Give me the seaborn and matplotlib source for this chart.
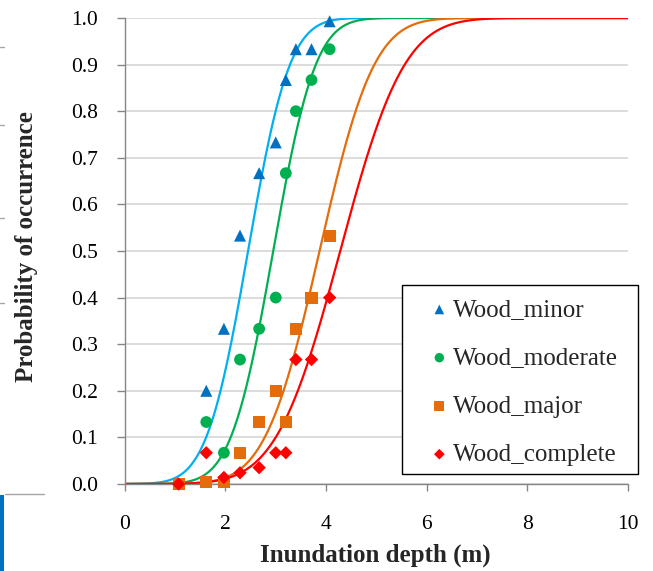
import math
import numpy as np
import pandas as pd
import matplotlib
matplotlib.use("Agg")
import matplotlib.pyplot as plt
import seaborn as sns
from matplotlib.lines import Line2D
from matplotlib.patches import Rectangle

# ---------------- data ----------------
depth = [1.07, 1.62, 1.97, 2.29, 2.67, 3.00, 3.20, 3.40, 3.71, 4.07]
p_minor = [0.0, 0.200, 0.333, 0.533, 0.667, 0.733, 0.867, 0.933, 0.933, 0.993]
p_moderate = [0.0, 0.133, 0.067, 0.267, 0.333, 0.400, 0.667, 0.800, 0.867, 0.933]
p_major = [0.0, 0.004, 0.004, 0.067, 0.133, 0.200, 0.133, 0.333, 0.400, 0.533]
p_complete = [0.0, 0.067, 0.014, 0.024, 0.035, 0.067, 0.067, 0.267, 0.267, 0.400]
series = ["Wood_minor", "Wood_moderate", "Wood_major", "Wood_complete"]

# fitted fragility curves (normal CDF parameters)
fit_mean = [2.45, 2.95, 3.87, 4.28]
fit_sd = [0.65, 0.66, 0.85, 1.00]

x_ticks = [0, 2, 4, 6, 8, 10]
y_ticks = [0.0, 0.1, 0.2, 0.3, 0.4, 0.5, 0.6, 0.7, 0.8, 0.9, 1.0]
x_label = "Inundation depth (m)"
y_label = "Probability of occurrence"

marker_colors = ["#0070C0", "#00B050", "#E46C0A", "#FF0000"]
curve_colors = ["#00B0F0", "#00B050", "#E46C0A", "#FF0000"]
markers = ["^", "o", "s", "D"]
marker_sizes = [75, 72, 76, 46]

# ---------------- tables ----------------
values = [p_minor, p_moderate, p_major, p_complete]
pts = pd.DataFrame({
    "depth": np.tile(depth, len(series)),
    "prob": np.concatenate(values),
    "series": np.repeat(series, len(depth)),
})

xgrid = np.linspace(0, 10, 501)
curve_rows = []
for name, m, s in zip(series, fit_mean, fit_sd):
    for xv in xgrid:
        curve_rows.append((xv, 0.5 * (1 + math.erf((xv - m) / (s * math.sqrt(2)))), name))
curves = pd.DataFrame(curve_rows, columns=["depth", "prob", "series"])

# ---------------- figure ----------------
sns.set_theme(style="white")
plt.rcParams["font.family"] = ["Liberation Serif", "DejaVu Serif"]

fig = plt.figure(figsize=(6.53, 5.71), dpi=100)
ax = fig.add_axes([0.191, 0.1524, 0.771, 0.8161])

sns.lineplot(data=curves, x="depth", y="prob", hue="series", hue_order=series,
             palette=curve_colors, linewidth=1.6, legend=False, ax=ax, zorder=2)

for name, col, mk, sz in zip(series, marker_colors, markers, marker_sizes):
    sub = pts[pts["series"] == name]
    sns.scatterplot(data=sub, x="depth", y="prob", color=col, marker=mk, s=sz,
                    edgecolor="none", linewidth=0, ax=ax, zorder=3, clip_on=False,
                    label=name)

ax.set_xlim(0, 10)
ax.set_ylim(0, 1)
ax.set_xticks(x_ticks)
ax.set_xticklabels([str(v) for v in x_ticks])
ax.set_yticks(y_ticks)
ax.set_yticklabels([f"{v:.1f}" for v in y_ticks])

ax.yaxis.grid(True, color="#D9D9D9", linewidth=1.3)
ax.xaxis.grid(False)
ax.set_axisbelow(True)
for side in ["top", "right"]:
    ax.spines[side].set_visible(False)
for side in ["left", "bottom"]:
    ax.spines[side].set_color("#868686")
    ax.spines[side].set_linewidth(1.0)

ax.tick_params(axis="x", direction="out", length=5, width=1, color="#868686",
               labelsize=15.5, labelcolor="black", pad=17, bottom=True)
ax.tick_params(axis="y", direction="out", length=6, width=1, color="#868686",
               labelsize=15.5, labelcolor="black", pad=13, left=True)

ax.set_xlabel(x_label, fontsize=18, fontweight="bold")
ax.set_ylabel(y_label, fontsize=18, fontweight="bold")
ax.xaxis.set_label_coords(0.498, -0.127)
ax.yaxis.set_label_coords(-0.172, 0.51)

# legend with a square black frame drawn separately
box = Rectangle((0.551, 0.0215), 0.469, 0.4055, transform=ax.transAxes,
                facecolor="white", edgecolor="black", linewidth=1.0,
                clip_on=False, zorder=4)
ax.add_patch(box)
leg = ax.legend(loc="upper left", bbox_to_anchor=(0.610, 0.398), frameon=False,
                fontsize=18, handlelength=0.6, handletextpad=0.26,
                labelspacing=1.03, borderpad=0, borderaxespad=0,
                markerscale=0.8)
leg.set_zorder(5)

# stray fragments at the left edge of the reference image
fig.add_artist(Rectangle((0, 0), 4 / 653, (571 - 495) / 571, transform=fig.transFigure,
                         facecolor="#0070C0", edgecolor="none"))
fig.add_artist(Line2D([5 / 653, 44 / 653], [1 - 494 / 571] * 2, transform=fig.transFigure,
                      color="#A6A6A6", linewidth=1))
for yy in [47, 125, 218, 303]:
    fig.add_artist(Line2D([0, 4 / 653], [1 - yy / 571] * 2, transform=fig.transFigure,
                          color="#A6A6A6", linewidth=1))

fig.savefig("out.png", dpi=100)
